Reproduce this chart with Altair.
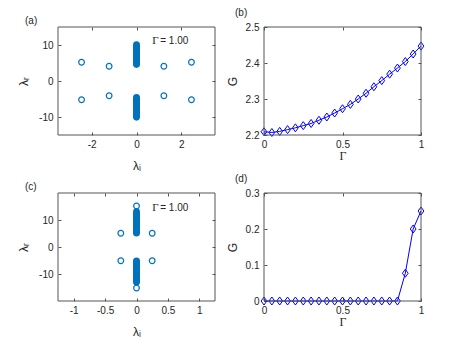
import altair as alt
import pandas as pd

BLUE = "#0072BD"
MBLUE = "#0000FF"
AX = "#262626"
FRAME = "#555555"

# ---------------- data ----------------
# (a)
a_open_x = [-2.45, -1.22, 1.22, 2.45, -2.45, -1.22, 1.22, 2.45]
a_open_y = [5.2, 4.1, 4.1, 5.2, -5.2, -4.1, -4.1, -5.2]
a_fill_y = [4.55, 4.8, 5.05, 5.3, 5.55, 5.8, 6.05, 6.3, 6.55, 6.8, 7.05, 7.3, 7.55,
            7.8, 8.05, 8.3, 8.55, 8.8, 9.05, 9.3, 9.55, 9.8, 10.1,
            -4.55, -4.8, -5.05, -5.3, -5.55, -5.8, -6.05, -6.3, -6.55, -6.8, -7.05, -7.3, -7.55,
            -7.8, -8.05, -8.3, -8.55, -8.8, -9.05, -9.3, -9.55, -9.8, -10.1]

# (c)
c_open_x = [0.0, 0.0, -0.25, 0.25, -0.25, 0.25]
c_open_y = [15.2, -15.2, 5.1, 5.1, -5.1, -5.1]
c_fill_y = [5.1, 5.5, 5.9, 6.3, 6.7, 7.1, 7.5, 7.9, 8.3, 8.7, 9.1, 9.5, 9.9, 10.3,
            10.7, 11.1, 11.5, 11.9, 12.3, 12.7, 13.1,
            -5.1, -5.5, -5.9, -6.3, -6.7, -7.1, -7.5, -7.9, -8.3, -8.7, -9.1, -9.5, -9.9, -10.3,
            -10.7, -11.1, -11.5, -11.9, -12.3, -12.7, -13.1]

# (b), (d)
gamma = [0.0, 0.05, 0.1, 0.15, 0.2, 0.25, 0.3, 0.35, 0.4, 0.45, 0.5,
         0.55, 0.6, 0.65, 0.7, 0.75, 0.8, 0.85, 0.9, 0.95, 1.0]
G_b = [2.209, 2.207, 2.210, 2.215, 2.220, 2.226, 2.232, 2.241, 2.250, 2.261, 2.273,
       2.285, 2.300, 2.316, 2.334, 2.351, 2.369, 2.386, 2.404, 2.425, 2.447]
G_d = [0, 0, 0, 0, 0, 0, 0, 0, 0, 0, 0,
       0, 0, 0, 0, 0, 0, 0, 0.077, 0.200, 0.250]

df_a_open = pd.DataFrame({"x": a_open_x, "y": a_open_y})
df_a_fill = pd.DataFrame({"x": [0.0] * len(a_fill_y), "y": a_fill_y})
df_c_open = pd.DataFrame({"x": c_open_x, "y": c_open_y})
df_c_fill = pd.DataFrame({"x": [0.0] * len(c_fill_y), "y": c_fill_y})
df_b = pd.DataFrame({"x": gamma, "y": G_b})
df_d = pd.DataFrame({"x": gamma, "y": G_d})
df_one = pd.DataFrame({"k": [0]})

W, H = 157, 108
LBL = "Liberation Sans"
SERIF = "Liberation Serif"
DIAMOND = "M0,-1L0.72,0L0,1L-0.72,0Z"


def ax_main(orient, values, title, tfont, tpad, lpad):
    return alt.Axis(orient=orient, values=values, title=title, titleFont=tfont,
                    titleFontSize=12, titleFontWeight="normal", titleColor=AX,
                    titlePadding=tpad, labelFont=LBL, labelFontSize=10, labelColor=AX,
                    labelPadding=lpad, labelExpr="'' + datum.value", domain=False,
                    grid=False, ticks=True, tickSize=3, tickColor=FRAME, offset=-3,
                    labelFlush=False, labelOverlap=False)


def ax_box(orient, values):
    return alt.Axis(orient=orient, values=values, title=None, labels=False, domain=False,
                    grid=False, ticks=True, tickSize=3, tickColor=FRAME, offset=-3,
                    minExtent=0)


def title(label, ldx, loff):
    return alt.TitleParams(label, anchor="start", frame="group", dx=ldx, offset=loff,
                           font=LBL, fontSize=10, fontWeight="normal", color=AX)


def frame():
    return alt.Chart(df_one).mark_rect(filled=False, stroke=FRAME, strokeWidth=1).encode(
        x=alt.value(0), x2=alt.value(W), y=alt.value(0), y2=alt.value(H))


def annot(xv, yv, xs, ys):
    d = pd.DataFrame({"x": [xv], "y": [yv]})
    g = alt.Chart(d).mark_text(text="\u0393", font=SERIF, fontSize=11, align="left",
                                baseline="middle", color=AX).encode(
        x=alt.X("x:Q", scale=xs, axis=None), y=alt.Y("y:Q", scale=ys, axis=None))
    r = alt.Chart(d).mark_text(text="= 1.00", font=LBL, fontSize=10, align="left",
                                baseline="middle", dx=8, color=AX).encode(
        x=alt.X("x:Q", scale=xs, axis=None), y=alt.Y("y:Q", scale=ys, axis=None))
    return g, r


def build(open_df, fill_df, xdom, ydom, xt, yt, ann, label, ldx, loff):
    xs = alt.Scale(domain=xdom, nice=False, zero=False)
    ys = alt.Scale(domain=ydom, nice=False, zero=False)
    l1 = alt.Chart(fill_df).mark_point(shape="circle", filled=True, color=BLUE, size=44,
                                       opacity=1, strokeWidth=0).encode(
        x=alt.X("x:Q", scale=xs, axis=ax_main("bottom", xt, "\u03bb\u1d62", LBL, 11, 4)),
        y=alt.Y("y:Q", scale=ys, axis=ax_main("left", yt, "\u03bb\u1d63", LBL, 8, 5)))
    l2 = alt.Chart(open_df).mark_point(shape="circle", filled=False, color=BLUE, size=32,
                                       strokeWidth=1.2, opacity=1).encode(
        x=alt.X("x:Q", scale=xs, axis=None), y=alt.Y("y:Q", scale=ys, axis=None))
    g, r = annot(ann[0], ann[1], xs, ys)
    box = alt.Chart(open_df).mark_point(opacity=0).encode(
        x=alt.X("x:Q", scale=xs, axis=ax_box("top", xt)),
        y=alt.Y("y:Q", scale=ys, axis=ax_box("right", yt)))
    return alt.layer(l1, l2, g, r, box, frame()).resolve_axis(
        x="independent", y="independent").properties(
        width=W, height=H, title=title(label, ldx, loff))


def build_g(df, ydom, yt, label, ldx, loff):
    xs = alt.Scale(domain=[0, 1], nice=False, zero=False)
    ys = alt.Scale(domain=ydom, nice=False, zero=False)
    xt = [0, 0.5, 1]
    line = alt.Chart(df).mark_line(color=MBLUE, strokeWidth=1).encode(
        x=alt.X("x:Q", scale=xs, axis=ax_main("bottom", xt, "\u0393", SERIF, 1, 4)),
        y=alt.Y("y:Q", scale=ys, axis=ax_main("left", yt, "G", LBL, 6, 5)))
    pt = alt.Chart(df).mark_point(shape=DIAMOND, filled=False, color=MBLUE, size=64,
                                  strokeWidth=1, opacity=1).encode(
        x=alt.X("x:Q", scale=xs, axis=None), y=alt.Y("y:Q", scale=ys, axis=None))
    box = alt.Chart(df).mark_point(opacity=0).encode(
        x=alt.X("x:Q", scale=xs, axis=ax_box("top", xt)),
        y=alt.Y("y:Q", scale=ys, axis=ax_box("right", yt)))
    return alt.layer(line, pt, box, frame()).resolve_axis(
        x="independent", y="independent").properties(
        width=W, height=H, title=title(label, ldx, loff))


pa = build(df_a_open, df_a_fill, [-3.5, 3.5], [-15, 15], [-2, 0, 2], [-10, 0, 10],
           (0.7, 11.1), "(a)", -33, 1)
pc = build(df_c_open, df_c_fill, [-1.25, 1.25], [-20, 20], [-1, -0.5, 0, 0.5, 1], [-10, 0, 10],
           (0.25, 14.3), "(c)", -33, 1)
pb = build_g(df_b, [2.2, 2.5], [2.2, 2.3, 2.4, 2.5], "(b)", -29, 4)
pd_ = build_g(df_d, [0, 0.3], [0, 0.1, 0.2, 0.3], "(d)", -29, 4)

chart = alt.concat(pa, pb, pc, pd_, columns=2, spacing={"row": 58, "column": 49},
                   bounds="flush").properties(
    padding={"left": 9, "top": 0, "right": 0, "bottom": 0}
).configure_view(stroke=None)

chart.save("out.html", embed_options={"renderer": "svg", "actions": False})
